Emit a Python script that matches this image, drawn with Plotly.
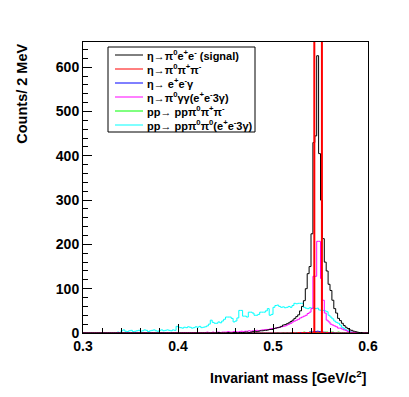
import numpy as np
import plotly.graph_objects as go

# 150 bins of 2 MeV between 0.3 and 0.6 GeV/c^2
x_min, x_max, n_bins = 0.3, 0.6, 150

signal = [
    0, 0, 0, 0, 0, 0, 0, 0, 0, 0, 0, 0, 0, 0, 0,
    0, 0, 0, 0, 0, 0, 0, 0, 0, 0, 0, 0, 0, 0, 0,
    0, 0, 0, 0, 0, 0, 0, 0, 0, 0, 0, 0, 0, 0, 0,
    0, 0, 0, 0, 0, 0, 0, 0, 0, 0, 0, 0, 0, 0, 0,
    0, 0, 0, 0, 0, 0, 0, 0, 0, 0, 0, 1, 0, 0, 0,
    0, 1, 0, 0, 1, 1, 0, 1, 1, 1, 2, 2, 1, 2, 3,
    4, 3, 4, 5, 5, 6, 6, 7, 8, 8, 10, 11, 12, 13, 15,
    18, 19, 21, 23, 26, 29, 33, 37, 41, 50, 60, 73, 100, 134, 150,
    224, 430, 445, 626, 405, 300, 213, 160, 140, 110, 96, 74, 55, 45, 33,
    28, 22, 17, 13, 10, 7, 6, 4, 3, 2, 1, 1, 0, 0, 0,
]
pi0pipi = [
    0, 0, 0, 0, 0, 0, 0, 0, 0, 0, 0, 0, 0, 0, 0,
    0, 0, 0, 0, 0, 0, 0, 0, 0, 0, 0, 0, 0, 0, 0,
    0, 0, 0, 0, 0, 0, 0, 0, 0, 0, 0, 0, 0, 0, 0,
    0, 0, 0, 0, 0, 0, 0, 0, 0, 0, 0, 0, 0, 0, 0,
    0, 0, 0, 0, 0, 0, 0, 0, 0, 0, 0, 0, 0, 0, 0,
    0, 0, 0, 0, 0, 0, 0, 0, 0, 0, 0, 0, 0, 0, 0,
    0, 0, 0, 0, 0, 0, 0, 0, 0, 0, 0, 0, 0, 0, 0,
    0, 0, 0, 0, 0, 1, 0, 0, 1, 0, 1, 1, 0, 1, 1,
    1, 2, 1, 2, 1, 1, 1, 0, 1, 0, 1, 0, 0, 0, 0,
    0, 0, 0, 0, 0, 0, 0, 0, 0, 0, 0, 0, 0, 0, 0,
]
eegamma = [
    0, 0, 0, 0, 0, 0, 0, 0, 0, 0, 0, 0, 0, 0, 0,
    0, 0, 0, 0, 0, 0, 0, 0, 0, 0, 0, 0, 0, 0, 0,
    0, 0, 0, 0, 0, 0, 0, 0, 0, 0, 0, 0, 0, 0, 0,
    0, 0, 0, 0, 0, 0, 0, 0, 0, 0, 0, 0, 0, 0, 0,
    0, 0, 0, 0, 0, 0, 0, 0, 0, 0, 0, 0, 0, 0, 0,
    0, 0, 0, 0, 0, 0, 0, 0, 0, 0, 0, 0, 0, 0, 0,
    0, 0, 0, 0, 0, 0, 0, 0, 0, 0, 0, 0, 0, 0, 0,
    0, 0, 0, 0, 0, 0, 0, 0, 0, 1, 0, 1, 1, 1, 2,
    2, 3, 3, 4, 3, 2, 2, 1, 1, 1, 0, 1, 0, 0, 0,
    0, 0, 0, 0, 0, 0, 0, 0, 0, 0, 0, 0, 0, 0, 0,
]
pi0gg = [
    0, 0, 0, 0, 0, 0, 0, 0, 0, 0, 0, 0, 0, 0, 0,
    0, 0, 0, 1, 0, 0, 0, 0, 1, 0, 0, 0, 0, 1, 0,
    0, 0, 1, 0, 0, 0, 1, 0, 0, 0, 0, 1, 0, 0, 1,
    0, 0, 1, 0, 1, 0, 0, 1, 1, 0, 1, 0, 1, 1, 0,
    1, 1, 0, 1, 1, 2, 1, 1, 2, 1, 2, 2, 1, 2, 2,
    2, 3, 2, 2, 3, 3, 2, 3, 4, 3, 4, 4, 5, 4, 5,
    5, 6, 5, 6, 7, 7, 8, 8, 9, 10, 10, 11, 12, 13, 14,
    15, 16, 18, 20, 22, 25, 27, 29, 31, 34, 36, 38, 40, 44, 47,
    55, 128, 128, 207, 207, 123, 74, 45, 29, 25, 20, 18, 16, 14, 11,
    11, 9, 7, 6, 3, 2, 2, 1, 1, 0, 0, 0, 0, 0, 0,
]
pp_pi0pipi = [
    0, 0, 0, 0, 0, 0, 0, 0, 0, 0, 0, 0, 0, 0, 0,
    0, 0, 0, 0, 0, 0, 0, 0, 0, 0, 0, 0, 0, 0, 0,
    0, 0, 0, 0, 0, 0, 0, 0, 0, 0, 0, 0, 0, 0, 0,
    0, 0, 0, 0, 0, 0, 0, 0, 0, 0, 0, 0, 0, 0, 0,
    0, 0, 0, 0, 0, 0, 0, 0, 0, 0, 0, 0, 0, 0, 0,
    0, 0, 0, 0, 0, 0, 0, 0, 0, 0, 0, 0, 0, 0, 0,
    0, 0, 0, 0, 0, 0, 0, 0, 0, 0, 0, 0, 1, 0, 0,
    1, 0, 1, 0, 1, 1, 0, 1, 1, 1, 1, 2, 1, 1, 2,
    1, 2, 2, 1, 2, 2, 1, 2, 2, 1, 2, 2, 1, 1, 2,
    1, 1, 1, 1, 1, 0, 1, 0, 0, 0, 0, 0, 0, 0, 0,
]
pp_pi0pi0 = [
    1, 1, 0, 0, 1, 0, 0, 0, 1, 0, 0, 1, 0, 0, 1,
    0, 1, 1, 2, 1, 5, 7, 4, 3, 5, 6, 3, 4, 5, 6,
    4, 5, 7, 6, 3, 5, 6, 7, 5, 4, 6, 7, 5, 6, 7,
    6, 5, 7, 6, 15, 13, 12, 11, 13, 12, 14, 13, 11, 12, 14,
    13, 15, 12, 13, 14, 16, 20, 29, 24, 22, 22, 25, 23, 27, 31,
    36, 36, 36, 33, 25, 27, 34, 51, 51, 38, 38, 36, 47, 47, 45,
    40, 40, 42, 47, 47, 47, 50, 55, 40, 42, 58, 62, 63, 60, 58,
    59, 57, 58, 60, 58, 62, 67, 66, 67, 67, 67, 58, 56, 55, 57,
    56, 57, 55, 56, 52, 51, 51, 50, 48, 40, 36, 32, 27, 24, 22,
    18, 13, 10, 7, 5, 3, 2, 1, 1, 0, 0, 0, 0, 0, 0,
]

window = [0.5435, 0.5515]   # red cut lines
y_max = 657

names = [
    "η→π<sup>0</sup>e<sup>+</sup>e<sup>-</sup> (signal)",
    "η→π<sup>0</sup>π<sup>+</sup>π<sup>-</sup>",
    "η→ e<sup>+</sup>e<sup>-</sup>γ",
    "η→π<sup>0</sup>γγ(e<sup>+</sup>e<sup>-</sup>3γ)",
    "pp→ ppπ<sup>0</sup>π<sup>+</sup>π<sup>-</sup>",
    "pp→ ppπ<sup>0</sup>π<sup>0</sup>(e<sup>+</sup>e<sup>-</sup>3γ)",
]
series = [signal, pi0pipi, eegamma, pi0gg, pp_pi0pipi, pp_pi0pi0]
colors = ["#000000", "#ff0000", "#0000ff", "#ff00ff", "#00ff00", "#00ffff"]

edges = np.linspace(x_min, x_max, n_bins + 1)

fig = go.Figure()
# backgrounds first so the signal ends up on top
for k in [5, 4, 3, 2, 1, 0]:
    vals = series[k]
    fig.add_trace(go.Scatter(
        x=edges, y=list(vals) + [vals[-1]],
        mode="lines", line=dict(color=colors[k], width=1, shape="hv"),
        name=names[k], showlegend=False,
    ))

for xc in window:
    fig.add_trace(go.Scatter(x=[xc, xc], y=[0, y_max], mode="lines",
                             line=dict(color="#ff0000", width=2), showlegend=False))

font = "Liberation Sans, Arial, sans-serif"
axis_common = dict(
    ticks="inside", ticklen=9, tickcolor="#000", showline=True, linecolor="#000",
    linewidth=1, mirror=True, showgrid=False, zeroline=False,
    tickfont=dict(family=font, size=14, color="#000", weight="bold"),
)
fig.update_xaxes(range=[x_min, x_max], dtick=0.1, tick0=0.3, tickformat=".1f",
                 minor=dict(dtick=0.02, ticklen=5, ticks="inside", tickcolor="#000"),
                 **axis_common)
fig.update_yaxes(range=[0, y_max], dtick=100,
                 minor=dict(dtick=20, ticklen=5, ticks="inside", tickcolor="#000"),
                 **axis_common)

fig.add_annotation(text="Invariant mass [GeV/c<sup>2</sup>]", xref="paper", yref="paper",
                   x=1, y=-0.15, xanchor="right", yanchor="middle", showarrow=False,
                   font=dict(family=font, size=14, color="#000", weight="bold"))
fig.add_annotation(text="Counts/ 2 MeV", xref="paper", yref="paper", textangle=-90,
                   x=-0.215, y=1, xanchor="center", yanchor="top", showarrow=False,
                   font=dict(family=font, size=14.5, color="#000", weight="bold"))

# ROOT-style compact legend box (pixel positions inside the frame)
frame_l, frame_r, frame_t, frame_b = 83, 368, 42, 333
def px(xp):
    return (xp - frame_l) / (frame_r - frame_l)
def py(yp):
    return (frame_b - yp) / (frame_b - frame_t)

fig.add_shape(type="rect", xref="paper", yref="paper", layer="above",
              x0=px(108), x1=px(255), y0=py(132), y1=py(47),
              line=dict(color="#000", width=1), fillcolor="white")
for i, k in enumerate(range(6)):
    row_y = py(55 + 14 * i)
    fig.add_shape(type="line", xref="paper", yref="paper", layer="above",
                  x0=px(115), x1=px(143), y0=row_y, y1=row_y,
                  line=dict(color=colors[k], width=1))
    fig.add_annotation(text=names[k], xref="paper", yref="paper", x=px(145), y=row_y,
                       xanchor="left", yanchor="middle", showarrow=False,
                       font=dict(family=font, size=11, color="#000", weight="bold"))

# the page adds an 8px body offset, so margins are trimmed to land the frame
fig.update_layout(
    width=409, height=397,
    margin=dict(l=frame_l - 8, r=409 - frame_r + 8, t=frame_t - 8, b=397 - frame_b + 8),
    paper_bgcolor="white", plot_bgcolor="white",
    showlegend=False,
)

fig.write_html("out.html")
